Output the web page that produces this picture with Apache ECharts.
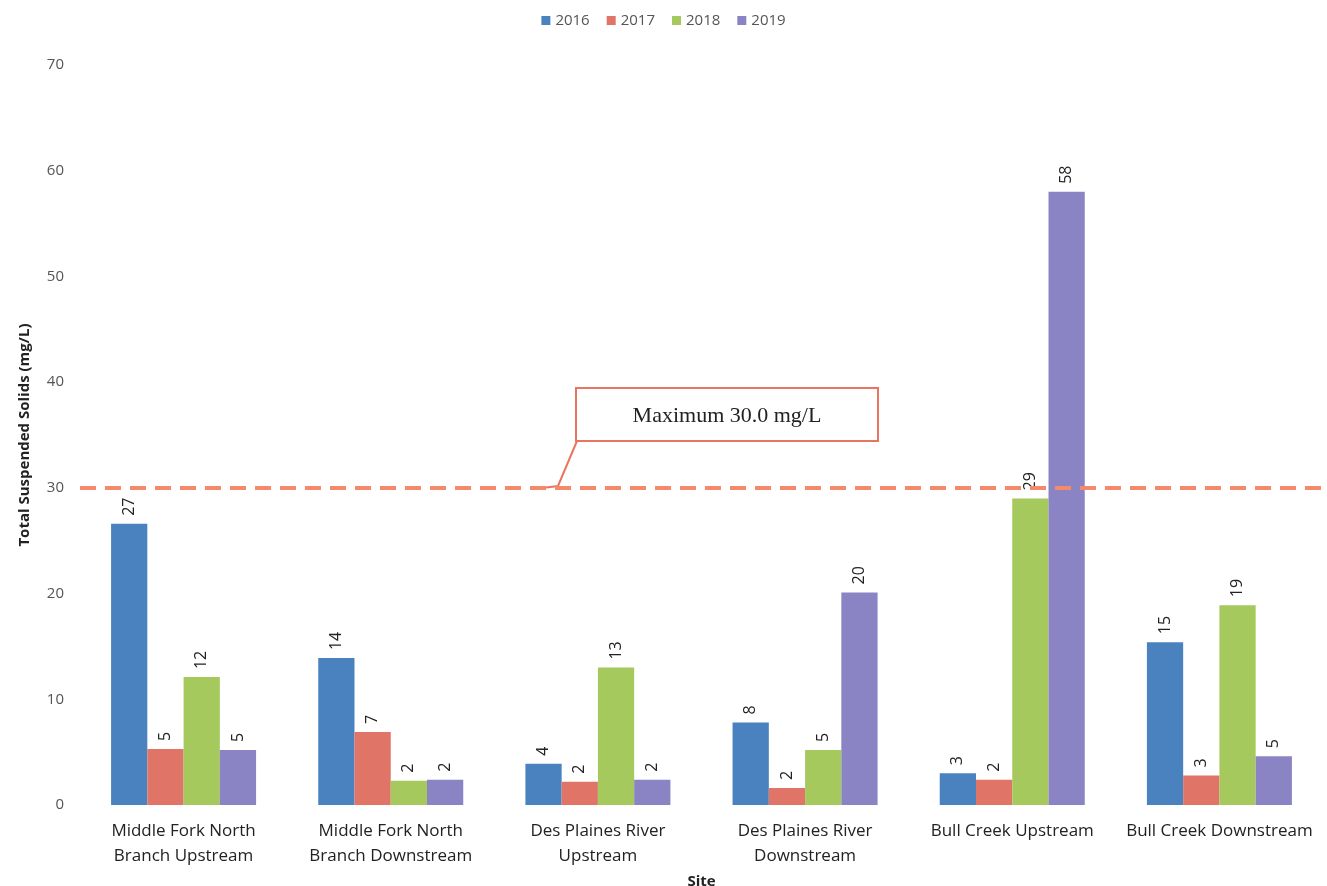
<!DOCTYPE html>
<html>
<head>
<meta charset="utf-8">
<script src="https://cdn.jsdelivr.net/npm/echarts@6/dist/echarts.min.js"></script>
<style>html,body{margin:0;padding:0;background:#fff}#c{width:1327px;height:886px}</style>
</head>
<body>
<div id="c"></div>
<script>
const categories = ['Middle Fork North\nBranch Upstream','Middle Fork North\nBranch Downstream','Des Plaines River\nUpstream','Des Plaines River\nDownstream','Bull Creek Upstream','Bull Creek Downstream'];
const years = ['2016','2017','2018','2019'];
const v2016 = [26.6, 13.9, 3.9, 7.8, 3.0, 15.4];
const v2017 = [5.3, 6.9, 2.2, 1.6, 2.4, 2.8];
const v2018 = [12.1, 2.3, 13.0, 5.2, 29.0, 18.9];
const v2019 = [5.2, 2.4, 2.4, 20.1, 58.0, 4.6];
const maxLimit = 30;
const yTicks = [0,10,20,30,40,50,60,70];

const colors = ['#4a82bf','#e07466','#a6c95e','#8b84c4'];
const font = '"Open Sans",sans-serif';
const chart = echarts.init(document.getElementById('c'));
const series = [v2016, v2017, v2018, v2019].map((d, i) => ({
  name: years[i], type: 'bar', data: d, barGap: '0%', barCategoryGap: '30%',
  itemStyle: {color: colors[i]},
  label: {show: true, position: 'top', rotate: 90, align: 'left', verticalAlign: 'middle', distance: 8,
    color: '#222', fontSize: 16, fontFamily: font, formatter: p => Math.round(p.value)},
  markLine: i === 0 ? {
    silent: true, symbol: 'none',
    lineStyle: {color: '#f4896b', type: [16, 9], width: 4},
    label: {show: false},
    data: [{yAxis: maxLimit}]
  } : undefined
}));
chart.setOption({
  animation: false,
  color: colors,
  legend: {top: 8, left: 'center', icon: 'rect', itemWidth: 9, itemHeight: 9, itemGap: 17,
    textStyle: {color: '#555', fontSize: 15, fontFamily: font}, data: years},
  grid: {left: 80, right: 4, top: 65, bottom: 81, outerBoundsMode: 'none', containLabel: false},
  xAxis: {type: 'category', data: categories,
    name: 'Site', nameLocation: 'middle', nameGap: 64,
    nameTextStyle: {fontWeight: 'bold', fontSize: 15, color: '#222', fontFamily: font},
    axisLine: {show: false}, axisTick: {show: false},
    axisLabel: {interval: 0, color: '#222', fontSize: 17, lineHeight: 25, margin: 14, fontFamily: font}},
  yAxis: {type: 'value', min: 0, max: 70, interval: 10,
    name: 'Total Suspended Solids (mg/L)', nameLocation: 'middle', nameGap: 48,
    nameTextStyle: {fontWeight: 'bold', fontSize: 15, color: '#222', fontFamily: font},
    axisLine: {show: false}, axisTick: {show: false}, splitLine: {show: false},
    axisLabel: {color: '#555', fontSize: 15, margin: 16, fontFamily: font,
      formatter: v => yTicks.includes(v) ? String(v) : ''}},
  series: series,
  graphic: [
    {type: 'rect', shape: {x: 576, y: 388, width: 302, height: 53},
      style: {fill: '#fff', stroke: '#e8765e', lineWidth: 2}},
    {type: 'text', x: 727, y: 416,
      style: {text: 'Maximum 30.0 mg/L', font: '22px "Liberation Serif", serif', fill: '#222',
        textAlign: 'center', textVerticalAlign: 'middle'}},
    {type: 'polyline', shape: {points: [[577, 441], [558, 486], [542, 488]]},
      style: {stroke: '#e8765e', lineWidth: 2, fill: null}}
  ]
});
</script>
</body>
</html>
